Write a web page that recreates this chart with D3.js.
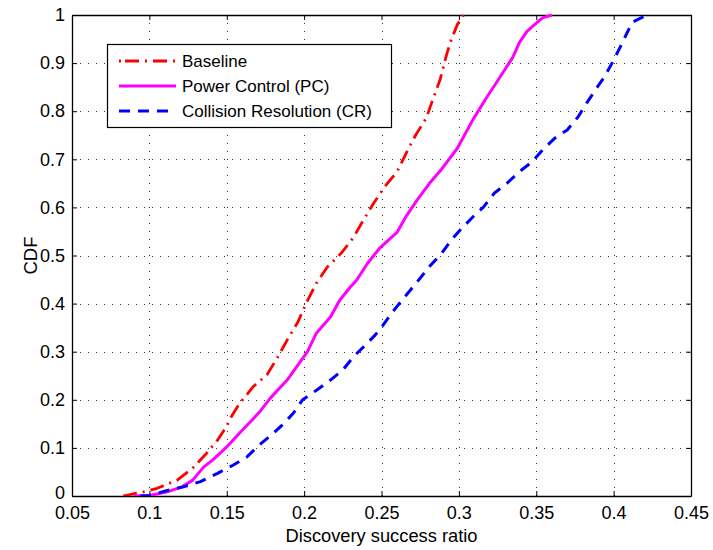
<!DOCTYPE html>
<html>
<head>
<meta charset="utf-8">
<script src="https://cdn.jsdelivr.net/npm/d3@7"></script>
<style>
html,body{margin:0;padding:0;background:#fff;}
svg{display:block;font-family:"Liberation Sans",Arial,Helvetica,sans-serif;}
</style>
</head>
<body>
<svg id="chart" width="713" height="550"></svg>
<script>
// ---- data ----
const xTicks = [0.05,0.1,0.15,0.2,0.25,0.3,0.35,0.4,0.45];
const xTickLabels = ["0.05","0.1","0.15","0.2","0.25","0.3","0.35","0.4","0.45"];
const yTicks = [0,0.1,0.2,0.3,0.4,0.5,0.6,0.7,0.8,0.9,1];
const yTickLabels = ["0","0.1","0.2","0.3","0.4","0.5","0.6","0.7","0.8","0.9","1"];

const seriesNames = ["Baseline","Power Control (PC)","Collision Resolution (CR)"];

const baselineX = [0.083,0.089,0.097,0.105,0.118,0.128,0.137,0.144,0.150,0.152,0.158,0.167,0.176,0.183,0.189,0.196,0.202,0.208,0.215,0.224,0.232,0.238,0.245,0.252,0.260,0.266,0.272,0.279,0.283,0.288,0.292,0.295,0.299,0.303];
const baselineY = [0,0.004,0.009,0.016,0.033,0.058,0.089,0.116,0.145,0.160,0.191,0.227,0.252,0.289,0.324,0.362,0.405,0.443,0.476,0.505,0.538,0.572,0.609,0.643,0.674,0.713,0.750,0.786,0.823,0.867,0.917,0.948,0.980,1.0];

const pcX = [0.090,0.100,0.111,0.121,0.128,0.135,0.141,0.150,0.158,0.167,0.172,0.178,0.189,0.195,0.202,0.208,0.217,0.223,0.230,0.234,0.241,0.249,0.260,0.266,0.273,0.281,0.288,0.299,0.309,0.318,0.326,0.335,0.339,0.344,0.350,0.354,0.360];
const pcY = [0,0.001,0.008,0.019,0.033,0.060,0.075,0.102,0.130,0.160,0.178,0.203,0.241,0.268,0.299,0.339,0.372,0.407,0.435,0.449,0.484,0.516,0.548,0.582,0.615,0.650,0.676,0.723,0.782,0.829,0.868,0.913,0.942,0.966,0.983,0.994,1.0];

const crX = [0.094,0.100,0.111,0.122,0.133,0.144,0.154,0.163,0.171,0.180,0.186,0.193,0.199,0.208,0.217,0.225,0.232,0.240,0.246,0.251,0.257,0.265,0.273,0.281,0.289,0.295,0.302,0.309,0.316,0.323,0.331,0.339,0.347,0.354,0.362,0.370,0.377,0.383,0.389,0.394,0.400,0.405,0.409,0.412,0.419,0.421];
const crY = [0,0.001,0.011,0.019,0.030,0.047,0.064,0.081,0.106,0.130,0.148,0.172,0.200,0.220,0.241,0.262,0.290,0.315,0.335,0.355,0.382,0.414,0.445,0.477,0.505,0.532,0.557,0.580,0.601,0.630,0.650,0.674,0.694,0.719,0.744,0.761,0.788,0.819,0.848,0.871,0.906,0.938,0.965,0.985,0.996,1.0];

// ---- layout ----
const svg = d3.select("#chart");
const L = 72, R = 691, T = 15, B = 496;
const x = d3.scaleLinear().domain([0.05,0.45]).range([L,R]);
const y = d3.scaleLinear().domain([0,1]).range([B,T]);

// grid
const grid = svg.append("g").attr("stroke","#333").attr("stroke-width",1).attr("stroke-dasharray","1,7");
xTicks.slice(1,-1).forEach(t=>{
  grid.append("line").attr("x1",Math.round(x(t))+0.5).attr("x2",Math.round(x(t))+0.5).attr("y1",B).attr("y2",T);
});
yTicks.slice(1,-1).forEach(t=>{
  grid.append("line").attr("x1",L).attr("x2",R).attr("y1",Math.round(y(t))+0.5).attr("y2",Math.round(y(t))+0.5);
});

// axes (inner ticks, both sides)
const fmtX = (d,i)=>xTickLabels[i];
const fmtY = (d,i)=>yTickLabels[i];
const axB = svg.append("g").attr("transform",`translate(0,${B})`)
  .call(d3.axisBottom(x).tickValues(xTicks).tickFormat(fmtX).tickSizeInner(-5).tickSizeOuter(0).tickPadding(10));
const axT = svg.append("g").attr("transform",`translate(0,${T})`)
  .call(d3.axisTop(x).tickValues(xTicks).tickFormat("").tickSizeInner(-5).tickSizeOuter(0));
const axL = svg.append("g").attr("transform",`translate(${L},0)`)
  .call(d3.axisLeft(y).tickValues(yTicks).tickFormat(fmtY).tickSizeInner(-5).tickSizeOuter(0).tickPadding(7));
const axR = svg.append("g").attr("transform",`translate(${R},0)`)
  .call(d3.axisRight(y).tickValues(yTicks).tickFormat("").tickSizeInner(-5).tickSizeOuter(0));
[axB,axT,axL,axR].forEach(a=>{
  a.selectAll("path").attr("stroke","#000").attr("stroke-width",1.3);
  a.selectAll("line").attr("stroke","#000");
  a.selectAll("text").attr("font-size",18).attr("fill","#000").attr("font-family","Liberation Sans, Arial, sans-serif");
});
axL.selectAll("text").attr("dy",(d,i)=> i===0 ? "0.15em" : "0.32em");

// axis titles
svg.append("text").attr("x",(L+R)/2).attr("y",541.5).attr("text-anchor","middle")
  .attr("font-size",18.3).text("Discovery success ratio");
svg.append("text").attr("transform",`translate(37,${(T+B)/2}) rotate(-90)`).attr("text-anchor","middle")
  .attr("font-size",18.5).text("CDF");

// curves
svg.append("clipPath").attr("id","clip").append("rect").attr("x",L).attr("y",T-3).attr("width",R-L).attr("height",B-T+3);
const line = d3.line().x(d=>x(d[0])).y(d=>y(d[1]));
const series = [
  {xs:baselineX, ys:baselineY, color:"#ff0000", dash:"14,6,2,6", w:2.8},
  {xs:pcX, ys:pcY, color:"#ff00ff", dash:null, w:3},
  {xs:crX, ys:crY, color:"#0000ff", dash:"11,8", w:3}
];
const cg = svg.append("g").attr("clip-path","url(#clip)");
series.forEach(s=>{
  const pts = s.xs.map((v,i)=>[v,s.ys[i]]);
  cg.append("path").datum(pts).attr("d",line).attr("fill","none")
    .attr("stroke",s.color).attr("stroke-width",s.w)
    .attr("stroke-dasharray",s.dash).attr("stroke-linejoin","round");
});

// legend
const lg = svg.append("g");
lg.append("rect").attr("x",107.5).attr("y",44.5).attr("width",284).attr("height",83)
  .attr("fill","#fff").attr("stroke","#000").attr("stroke-width",1.2);
const rowsY = [61,86,111];
series.forEach((s,i)=>{
  lg.append("line").attr("x1",119).attr("x2",176).attr("y1",rowsY[i]).attr("y2",rowsY[i])
    .attr("stroke",s.color).attr("stroke-width",s.w).attr("stroke-dasharray",s.dash ? (i===0?"2,4,14,6,2,6,14,6,2":"11,8") : null);
  lg.append("text").attr("x",182).attr("y",rowsY[i]+6).attr("font-size",17).text(seriesNames[i]);
});
</script>
</body>
</html>
